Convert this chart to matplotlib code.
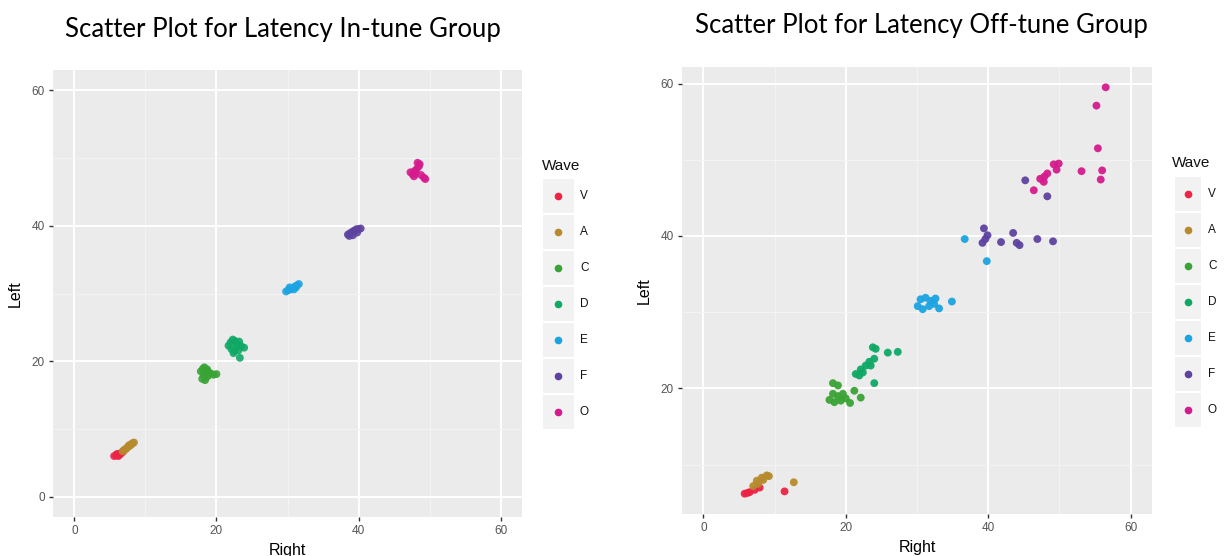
import matplotlib
matplotlib.use("Agg")
import matplotlib.pyplot as plt
from matplotlib.patches import Rectangle
from matplotlib.lines import Line2D

W, H = 1226, 556

waves = ["V", "A", "C", "D", "E", "F", "O"]
colors = ["#EE2345", "#B78A2E", "#3AA336", "#0FA965", "#1CA4E2", "#5E42A0", "#D41B8D"]

# ---- In-tune group ----
in_V_x = [5.6, 5.9, 6.1, 6.3, 6.5, 6.7, 6.9, 6.2, 6.0, 6.4]
in_V_y = [6.0, 6.1, 6.2, 6.3, 6.4, 6.5, 6.7, 6.0, 6.3, 6.2]
in_A_x = [6.8, 7.0, 7.2, 7.4, 7.6, 7.8, 8.0, 8.2, 8.4, 7.3, 7.7, 8.1]
in_A_y = [6.7, 6.9, 7.0, 7.2, 7.4, 7.5, 7.7, 7.9, 8.0, 7.1, 7.6, 7.8]
in_C_x = [17.8, 18.1, 18.3, 18.6, 18.9, 18.2, 18.5, 18.8, 19.2, 19.6, 20.0, 18.0, 18.4, 18.7]
in_C_y = [18.5, 18.9, 19.1, 18.6, 18.3, 17.9, 17.6, 17.8, 18.2, 18.0, 18.1, 17.4, 17.2, 18.8]
in_D_x = [21.7, 22.0, 22.3, 22.6, 22.9, 23.2, 22.1, 22.5, 22.8, 23.5, 23.9, 22.4, 23.3, 23.1]
in_D_y = [22.3, 22.8, 23.2, 23.0, 22.6, 22.9, 21.8, 21.5, 22.1, 22.2, 22.0, 21.2, 20.5, 21.6]
in_E_x = [29.8, 30.1, 30.4, 30.7, 31.0, 31.3, 31.6, 30.3, 30.9, 31.2]
in_E_y = [30.3, 30.5, 30.6, 30.8, 31.0, 31.2, 31.4, 30.9, 30.6, 30.9]
in_F_x = [38.5, 38.8, 39.1, 39.4, 39.7, 40.0, 40.3, 38.7, 39.2, 39.8]
in_F_y = [38.7, 38.9, 39.1, 39.3, 39.5, 39.5, 39.6, 38.5, 38.6, 39.0]
in_O_x = [47.3, 47.6, 47.9, 48.2, 48.5, 48.3, 48.6, 47.8, 48.8, 49.2, 49.4, 48.0]
in_O_y = [47.9, 47.6, 48.1, 48.4, 48.8, 49.3, 49.1, 47.3, 47.5, 47.1, 46.9, 47.7]

# ---- Off-tune group ----
off_V_x = [5.8, 6.5, 7.2, 7.9, 11.4, 6.2]
off_V_y = [6.2, 6.4, 6.7, 7.0, 6.5, 6.3]
off_A_x = [7.0, 7.5, 8.2, 8.9, 9.2, 7.7, 8.4, 12.7]
off_A_y = [7.2, 7.9, 8.3, 8.6, 8.5, 7.5, 8.0, 7.7]
off_C_x = [18.2, 18.9, 17.7, 18.4, 18.9, 19.6, 20.0, 20.6, 21.2, 22.1, 18.2, 19.3]
off_C_y = [20.7, 20.4, 18.5, 18.2, 19.0, 19.3, 18.7, 18.1, 19.7, 18.8, 19.3, 18.4]
off_D_x = [21.4, 22.1, 22.8, 23.3, 24.0, 22.4, 23.5, 23.8, 24.2, 25.9, 27.3, 24.0, 21.9]
off_D_y = [21.9, 22.5, 23.0, 23.5, 23.9, 22.1, 23.0, 25.4, 25.2, 24.7, 24.8, 20.7, 21.7]
off_E_x = [30.1, 30.5, 31.2, 31.9, 32.6, 30.8, 31.7, 32.4, 33.1, 34.9, 36.7, 39.8]
off_E_y = [30.8, 31.7, 31.9, 31.5, 31.8, 30.4, 30.8, 31.1, 30.5, 31.4, 39.6, 36.7]
off_F_x = [39.4, 39.9, 39.2, 39.6, 41.8, 43.5, 44.0, 44.4, 46.9, 49.1, 45.2, 48.3]
off_F_y = [41.0, 40.1, 39.1, 39.6, 39.2, 40.4, 39.1, 38.8, 39.6, 39.3, 47.3, 45.2]
off_O_x = [56.5, 55.2, 55.4, 53.1, 56.0, 55.8, 49.2, 49.9, 49.6, 48.3, 47.9, 47.3, 47.8, 46.4]
off_O_y = [59.5, 57.1, 51.5, 48.5, 48.6, 47.4, 49.4, 49.5, 48.7, 48.2, 47.8, 47.5, 47.1, 46.0]

in_x = [in_V_x, in_A_x, in_C_x, in_D_x, in_E_x, in_F_x, in_O_x]
in_y = [in_V_y, in_A_y, in_C_y, in_D_y, in_E_y, in_F_y, in_O_y]
off_x = [off_V_x, off_A_x, off_C_x, off_D_x, off_E_x, off_F_x, off_O_x]
off_y = [off_V_y, off_A_y, off_C_y, off_D_y, off_E_y, off_F_y, off_O_y]

major_ticks = [0, 20, 40, 60]
minor_ticks = [10, 30, 50]

fig = plt.figure(figsize=(W / 100, H / 100), dpi=100)


def fx(px):
    return px / W


def fy(py):
    return 1 - py / H


def style_axes(ax, xlim, ylim, yticks):
    ax.set_facecolor("#EBEBEB")
    ax.set_xlim(*xlim)
    ax.set_ylim(*ylim)
    ax.set_xticks(major_ticks)
    ax.set_yticks(yticks)
    ax.set_xticks(minor_ticks, minor=True)
    ax.set_yticks(minor_ticks, minor=True)
    ax.grid(True, which="major", color="white", linewidth=1.4)
    ax.grid(True, which="minor", color="#F4F4F4", linewidth=0.7)
    ax.set_axisbelow(True)
    for s in ax.spines.values():
        s.set_visible(False)
    ax.tick_params(which="major", length=3, width=1, color="#333333",
                   labelsize=8.5, labelcolor="#555555", pad=3)
    ax.tick_params(which="minor", length=0)
    for lab in ax.get_xticklabels() + ax.get_yticklabels():
        lab.set_family("Liberation Sans")
    ax.set_xlabel("Right", fontsize=11.5, family="Liberation Sans", color="#000000", labelpad=4)
    ax.set_ylabel("Left", fontsize=11.5, family="Liberation Sans", color="#000000", labelpad=6)


def draw_legend(title_x, title_y, box_x0, box_x1, box_top, dot_x, label_x):
    fig.text(fx(title_x), fy(title_y), "Wave", fontsize=11, family="Liberation Sans",
             color="#111111", ha="left", va="center")
    for i, (w, c) in enumerate(zip(waves, colors)):
        top = box_top + 36 * i
        fig.add_artist(Rectangle((fx(box_x0), fy(top + 34)), fx(box_x1) - fx(box_x0),
                                 (34) / H, transform=fig.transFigure,
                                 facecolor="#F2F2F2", edgecolor="none"))
        cy = top + 17
        fig.add_artist(Line2D([fx(dot_x)], [fy(cy)], transform=fig.transFigure,
                              marker="o", markersize=4.5, color=c, linestyle="none"))
        fig.text(fx(label_x), fy(cy), w, fontsize=8.5, family="Liberation Sans",
                 color="#111111", ha="left", va="center")


# Left panel
ax1 = fig.add_axes([fx(53), fy(517), fx(522) - fx(53), (517 - 70) / H])
for xs, ys, c in zip(in_x, in_y, colors):
    ax1.scatter(xs, ys, s=32, color=c, edgecolors="none", alpha=0.9)
style_axes(ax1, (-3, 63), (-3, 63), major_ticks)
fig.text(fx(283), fy(29), "Scatter Plot for Latency In-tune Group", fontsize=18.5,
         family="Lato", ha="center", va="center", color="#000000")
draw_legend(542, 166, 543, 574, 179, 558, 580)

# Right panel
ax2 = fig.add_axes([fx(682), fy(514), fx(1152) - fx(682), (514 - 67) / H])
for xs, ys, c in zip(off_x, off_y, colors):
    ax2.scatter(xs, ys, s=32, color=c, edgecolors="none", alpha=0.95)
all_y = [v for ys in off_y for v in ys]
rng = max(all_y) - min(all_y)
style_axes(ax2, (-3, 63), (min(all_y) - 0.05 * rng, max(all_y) + 0.05 * rng), [20, 40, 60])
fig.text(fx(921), fy(25), "Scatter Plot for Latency Off-tune Group", fontsize=18.5,
         family="Lato", ha="center", va="center", color="#000000")
draw_legend(1172, 163, 1175, 1201, 177, 1188, 1208)

fig.savefig("out.png", dpi=100)
